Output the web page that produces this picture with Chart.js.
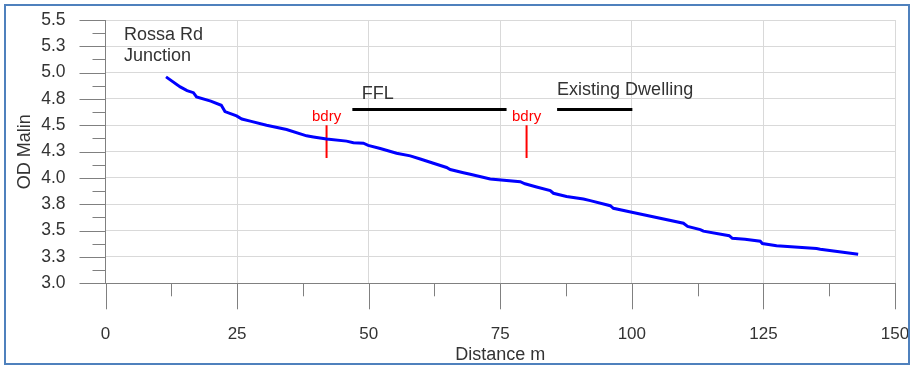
<!DOCTYPE html>
<html lang="en">
<head>
<meta charset="UTF-8">
<title>Long section - OD Malin</title>
<script src="https://cdn.jsdelivr.net/npm/chart.js@4.4.0/dist/chart.umd.js"></script>
<style>
  * { margin: 0; padding: 0; box-sizing: border-box; }
  body { background: #ffffff; width: 913px; height: 367px; overflow: hidden; }
  #wrap { position: relative; width: 913px; height: 367px; }
</style>
</head>
<body>
<div id="wrap"><canvas id="profile" width="913" height="367"></canvas></div>
<script>
// ground profile (distance m, level OD Malin)
const distance = [11.5, 14.2, 15.5, 16.7, 17.3, 20.0, 22.0, 22.7, 24.9, 25.9, 27.5, 30.6, 34.4, 38.2, 39.5,
  42.0, 45.8, 47.1, 49.0, 49.9, 52.2, 55.3, 57.9, 59.8, 62.3, 64.8, 65.5, 68.0, 69.3, 73.1, 78.8, 79.7,
  81.9, 84.5, 85.1, 87.6, 90.8, 92.1, 95.9, 96.5, 100.0, 109.8, 110.6, 113.0, 113.6, 118.5, 119.1, 121.5,
  124.4, 124.8, 127.5, 135.1, 135.8, 143.0];
const level = [4.96, 4.865, 4.83, 4.81, 4.77, 4.73, 4.69, 4.63, 4.59, 4.56, 4.54, 4.50, 4.46, 4.40, 4.39,
  4.37, 4.35, 4.335, 4.33, 4.31, 4.28, 4.235, 4.21, 4.18, 4.14, 4.10, 4.08, 4.05, 4.035, 3.99, 3.965, 3.945,
  3.915, 3.88, 3.855, 3.825, 3.80, 3.785, 3.737, 3.712, 3.675, 3.57, 3.54, 3.51, 3.495, 3.452, 3.427, 3.418,
  3.40, 3.378, 3.357, 3.33, 3.323, 3.275];

// finished floor level and existing dwelling (horizontal bars)
const fflX = [46.9, 76.2];
const dwellingX = [85.8, 100.1];
const floorLevel = 4.65;

// boundary markers
const bdryX = [42.0, 80.0];
const bdryTop = 4.50;
const bdryBottom = 4.19;

// text notes: [text, x, y(baseline)]
const notes = [
  ['Rossa Rd', 3.5, 5.31],
  ['Junction', 3.5, 5.114],
  ['FFL', 48.7, 4.75],
  ['Existing Dwelling', 85.8, 4.79]
];
const bdryLabelY = 4.541;

const xMin = 0, xMax = 150, xMajor = 25, xMinor = 12.5;
const yMin = 3.0, yMax = 5.5, yMajor = 0.25, yMinor = 0.125;

const FONT = "'Liberation Sans', Arial, sans-serif";
const PLOT_LEFT = 105.5;
const PLOT_BOTTOM_H = 83.7;

function isMajor(v, step) {
  const r = v / step;
  return Math.abs(r - Math.round(r)) < 1e-6;
}

const profile = distance.map((d, i) => ({ x: d, y: level[i] }));

const datasets = [
  {
    label: 'Ground',
    data: profile,
    borderColor: '#0000ff',
    borderWidth: 3,
    pointRadius: 0,
    showLine: true,
    tension: 0
  },
  {
    label: 'FFL',
    data: fflX.map(x => ({ x, y: floorLevel })),
    borderColor: '#000000',
    borderWidth: 3,
    pointRadius: 0,
    showLine: true
  },
  {
    label: 'Existing Dwelling',
    data: dwellingX.map(x => ({ x, y: floorLevel })),
    borderColor: '#000000',
    borderWidth: 3,
    pointRadius: 0,
    showLine: true
  }
];
bdryX.forEach(x => {
  datasets.push({
    label: 'bdry',
    data: [{ x, y: bdryTop }, { x, y: bdryBottom }],
    borderColor: '#ff0000',
    borderWidth: 2,
    pointRadius: 0,
    showLine: true
  });
});

// outward tick marks, notes and the frame
const extras = {
  id: 'extras',
  afterDraw(chart) {
    const ctx = chart.ctx;
    const xs = chart.scales.x, ys = chart.scales.y;
    const area = chart.chartArea;
    ctx.save();
    ctx.strokeStyle = '#808080';
    ctx.lineWidth = 1;
    ctx.beginPath();
    ys.ticks.forEach(t => {
      const py = Math.round(ys.getPixelForValue(t.value)) + 0.5;
      const len = isMajor(t.value, yMajor) ? 26 : 13;
      ctx.moveTo(area.left - len, py);
      ctx.lineTo(area.left, py);
    });
    xs.ticks.forEach(t => {
      const px = Math.round(xs.getPixelForValue(t.value)) + 0.5;
      const len = isMajor(t.value, xMajor) ? 26 : 13;
      ctx.moveTo(px, area.bottom);
      ctx.lineTo(px, area.bottom + len);
    });
    ctx.stroke();

    ctx.fillStyle = '#333333';
    ctx.font = '18px ' + FONT;
    ctx.textAlign = 'left';
    ctx.textBaseline = 'alphabetic';
    notes.forEach(([text, x, y]) => {
      ctx.fillText(text, xs.getPixelForValue(x), ys.getPixelForValue(y));
    });

    ctx.fillStyle = '#ff0000';
    ctx.font = '15px ' + FONT;
    ctx.textAlign = 'center';
    bdryX.forEach(x => {
      ctx.fillText('bdry', xs.getPixelForValue(x), ys.getPixelForValue(bdryLabelY));
    });

    ctx.strokeStyle = '#4f81bd';
    ctx.lineWidth = 2;
    ctx.strokeRect(5, 5, 904, 359);
    ctx.restore();
  }
};

new Chart(document.getElementById('profile'), {
  type: 'scatter',
  data: { datasets },
  plugins: [extras],
  options: {
    responsive: false,
    animation: false,
    layout: { padding: { left: 0, top: 20, right: 18, bottom: 0 } },
    plugins: {
      legend: { display: false },
      tooltip: { enabled: false }
    },
    scales: {
      x: {
        type: 'linear',
        min: xMin,
        max: xMax,
        afterFit(scale) {
          scale.height = PLOT_BOTTOM_H;
          scale.paddingLeft = 0;
          scale.paddingRight = 0;
        },
        ticks: {
          stepSize: xMinor,
          padding: 41,
          color: '#333333',
          font: { family: FONT, size: 17 },
          maxRotation: 0,
          autoSkip: false,
          callback: v => isMajor(v, xMajor) ? String(v) : ''
        },
        grid: {
          drawTicks: false,
          color: c => (c.tick && isMajor(c.tick.value, xMajor)) ? '#d9d9d9' : 'rgba(0,0,0,0)'
        },
        border: { color: '#808080', width: 1 },
        title: {
          display: true,
          text: 'Distance m',
          color: '#333333',
          font: { family: FONT, size: 18 },
          padding: { top: 0, bottom: 1 }
        }
      },
      y: {
        type: 'linear',
        min: yMin,
        max: yMax,
        afterFit(scale) {
          scale.width = PLOT_LEFT;
          scale.paddingTop = 0;
          scale.paddingBottom = 0;
        },
        ticks: {
          stepSize: yMinor,
          padding: 40,
          color: '#333333',
          font: { family: FONT, size: 17.5 },
          autoSkip: false,
          callback: v => isMajor(v, yMajor) ? v.toFixed(1) : ''
        },
        grid: {
          drawTicks: false,
          color: c => (c.tick && isMajor(c.tick.value, yMajor)) ? '#d9d9d9' : 'rgba(0,0,0,0)'
        },
        border: { color: '#808080', width: 1 },
        title: {
          display: true,
          text: 'OD Malin',
          color: '#333333',
          font: { family: FONT, size: 18 },
          padding: { top: 14, bottom: 0 }
        }
      }
    }
  }
});
</script>
</body>
</html>
